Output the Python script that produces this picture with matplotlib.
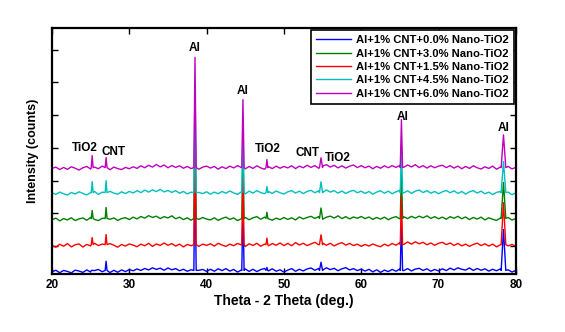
## xrd_stack.py
# stacked XRD patterns, Al + 1% CNT + nano-TiO2

import numpy as np
import matplotlib
matplotlib.use('Agg')
import matplotlib.pyplot as plt

plt.rcParams['font.family'] = ['Liberation Sans', 'DejaVu Sans']
plt.rcParams['font.weight'] = 'bold'

# series labels (legend order) and colours
labels = ['Al+1% CNT+0.0% Nano-TiO2', 'Al+1% CNT+3.0% Nano-TiO2',
          'Al+1% CNT+1.5% Nano-TiO2', 'Al+1% CNT+4.5% Nano-TiO2',
          'Al+1% CNT+6.0% Nano-TiO2']
colors = [(0, 0, 1), (0, 0.5, 0), (1, 0, 0), (0, 0.75, 0.75), (0.75, 0, 0.75)]

# stacking offsets of each pattern (counts)
offsets = [-790, 800, 0, 1590, 2355]

# background read at 0.5 deg steps, 20..80 deg
blue_bg = [0, 45, -30, 40, 10, -35, 50, 20, -20, 55, -10, 35, 70, 0, 60, -25, 45, -15, 55, 5, 65,
           30, 85, 40, 100, 55, 120, 70, 110, 45, 115, 60, 95, 30, 75, 15, 60, -5, 45, 70, 10,
           75, 15, 90, 35, 95, 20, 70, -10, 55, 85, 10, 75, 5, 65, 100, 25, 90, 15, 60, -10,
           50, 95, 15, 75, 25, 85, 115, 45, 100, 50, 120, 65, 105, 30, 90, 125, 55, 95, 35, 80,
           20, 75, -5, 60, -20, 50, 5, 70, 15, 85, 35, 95, 25, 80, 105, 40, 90, 15, 70, 25,
           90, 35, 110, 55, 120, 75, 50, 115, 40, 100, 45, 90, 20, 75, 30, 85, 10, 60, -10, 40]
green_bg = [0, 50, -35, 35, -5, 60, -25, 25, 55, -15, 70, 10, -25, 45, 80, 15, 55, -20, 35, 65, 5,
            80, 25, 100, 50, 125, 70, 110, 35, 95, 55, 120, 30, 80, 5, 60, -15, 50, 10, 70, 20,
            -5, 60, -20, 40, 80, 10, 55, -25, 30, 70, 0, 60, 95, 15, 80, 30, -15, 50, 5, 70,
            10, 60, -5, 85, 25, 70, 105, 40, 95, 15, 80, 110, 50, 120, 35, 95, 25, 85, 45, 100,
            35, 85, 10, 70, 20, 80, 0, 60, 95, 25, 90, 35, 105, 50, 110, 60, 120, 40, 95, 30,
            80, 15, 95, 45, 105, 30, 85, 5, 70, 20, 80, -5, 60, 15, -20, 50, 5, 70, -10, 40]
red_bg = [15, -40, 50, -10, 70, -30, 35, 60, -35, 45, 0, 80, 10, 55, -20, 70, 20, -40, 45, -5, 60,
          25, -25, 55, 5, 80, -15, 60, 15, 90, 20, 70, -5, 55, -30, 45, 5, 75, -15, 55, 15,
          65, -5, 80, 25, -15, 55, 5, 75, 30, -20, 65, 15, 80, -10, 55, 5, 70, 20, 90, 10,
          75, 5, 100, 30, 80, 10, 60, 110, 35, 90, 20, 80, 0, 60, 100, 25, 75, 10, 55, -15,
          45, -5, 60, 10, -25, 55, 0, 75, 20, 100, 45, 120, 55, 125, 65, 110, 35, 90, 20, 80,
          110, 40, 90, 15, 75, 0, 55, -15, 45, 85, 10, 65, -5, 55, -30, 35, 75, 0, 45, -15]
cyan_bg = [35, -15, 55, 5, -35, 45, -5, 65, 15, -30, 40, 75, -15, 55, 5, 80, 25, -10, 65, 10, 75,
           30, 100, 40, 115, 55, 125, 70, 140, 60, 105, 45, 100, 20, 75, 0, 55, -15, 45, 10, 65,
           -10, 55, 5, 75, 20, 90, 30, -15, 65, 0, 85, 25, 100, 40, 5, 75, 15, 90, 35, -5,
           65, 100, 25, 85, 10, 75, 110, 35, 95, 45, 120, 55, 100, 25, 85, 15, 75, 110, 35, 85,
           15, 75, -10, 55, 95, 20, 85, 5, 65, 110, 30, 95, 15, 85, 120, 40, 100, 20, 75, 5,
           65, 105, 35, 95, 15, 75, -5, 65, 100, 25, 85, 5, 55, -20, 45, 75, -5, 55, -25, 35]
magenta_bg = [15, 55, -20, 45, -15, 65, 20, -35, 35, 75, -5, 55, 5, 85, 25, -25, 55, 10, -20, 45, 5,
              65, 15, 95, 35, 110, 55, 135, 60, 120, 35, 100, 45, 95, 20, 75, 10, 65, -10, 55, 85,
              25, 75, -10, 65, 10, 85, 30, 100, 40, 0, 75, 15, 95, 30, -10, 65, 10, 85, 20, 75,
              30, 95, 10, 85, 35, 110, 45, 100, 20, 85, 130, 55, 110, 30, 95, 25, 85, 120, 40, 100,
              35, 85, 5, 75, 20, 95, 35, 100, 45, 110, 50, 120, 60, 130, 40, 100, 25, 95, 35, 85,
              110, 40, 100, 25, 85, 5, 75, 15, 95, 35, -5, 65, 15, 85, -10, 55, 5, 75, 0, 45]
backgrounds = [blue_bg, green_bg, red_bg, cyan_bg, magenta_bg]

# peaks: position (deg) and height above background for each pattern
peak_pos = [25.2, 27.0, 38.5, 44.7, 47.8, 54.8, 65.2, 78.4]
peak_w = [0.12, 0.12, 0.15, 0.15, 0.12, 0.2, 0.15, 0.3]
blue_pk = [0, 280, 3300, 2050, 90, 250, 1550, 1250]
green_pk = [245, 335, 3350, 2080, 190, 320, 1480, 1100]
red_pk = [215, 305, 3350, 2080, 200, 300, 1450, 1280]
cyan_pk = [335, 365, 3360, 2080, 185, 330, 1470, 950]
magenta_pk = [365, 305, 3370, 2080, 245, 300, 1470, 1000]
peaks = [blue_pk, green_pk, red_pk, cyan_pk, magenta_pk]

# phase labels: text, x (deg), y (counts)
ann_text = ['TiO2', 'CNT', 'Al', 'Al', 'TiO2', 'CNT', 'TiO2', 'Al', 'Al']
ann_x = [24.2, 27.9, 38.5, 44.7, 47.9, 53.1, 57.0, 65.3, 78.4]
ann_y = [3000, 2875, 6055, 4740, 2965, 2845, 2690, 3945, 3610]

two_theta = np.arange(20, 80.01, 0.5)


def build_pattern(bg, pk, off):
    x = list(two_theta)
    y = [off + b for b in bg]
    keep = [all(abs(xi - p) > w for p, w in zip(peak_pos, peak_w)) for xi in x]
    x = [xi for xi, k in zip(x, keep) if k]
    y = [yi for yi, k in zip(y, keep) if k]
    for p, w, h in zip(peak_pos, peak_w, pk):
        x += [p - w, p, p + w]
        y += [off + 40, off + 40 + h, off + 40]
    order = np.argsort(x)
    return np.array(x)[order], np.array(y)[order]


fig = plt.figure(figsize=(5.65, 3.32), dpi=100)
ax = fig.add_axes([0.092, 0.175, 0.821, 0.741])

for bg, pk, off, c, lab in zip(backgrounds, peaks, offsets, colors, labels):
    assert len(bg) == len(two_theta)
    xx, yy = build_pattern(bg, pk, off)
    ax.plot(xx, yy, '-', color=c, linewidth=1.0, label=lab)

for t, x, y in zip(ann_text, ann_x, ann_y):
    ax.text(x, y, t, ha='center', va='center', fontsize=8.5, fontweight='bold')

ax.set_xlim(20, 80)
ax.set_ylim(-856, 6667)
ax.set_xticks(np.arange(20, 81, 10))
ax.set_yticks(np.arange(0, 6001, 1000))
ax.set_yticklabels([])
ax.tick_params(direction='in', top=True, right=True, length=4, width=1,
               labelsize=8.5, pad=4)
for lab in ax.get_xticklabels():
    lab.set_fontweight('bold')
for s in ax.spines.values():
    s.set_linewidth(1.6)

ax.set_xlabel('Theta - 2 Theta (deg.)', fontsize=10, fontweight='bold', labelpad=2)
ax.set_ylabel('Intensity (counts)', fontsize=9, fontweight='bold', labelpad=5)

leg = ax.legend(loc='upper right', fontsize=8.1, fancybox=False, framealpha=1,
                edgecolor='black', borderaxespad=0.2, handlelength=3.1,
                labelspacing=0.3, borderpad=0.45, handletextpad=0.4)
leg.get_frame().set_linewidth(1.2)

fig.savefig('out.png', dpi=100)
